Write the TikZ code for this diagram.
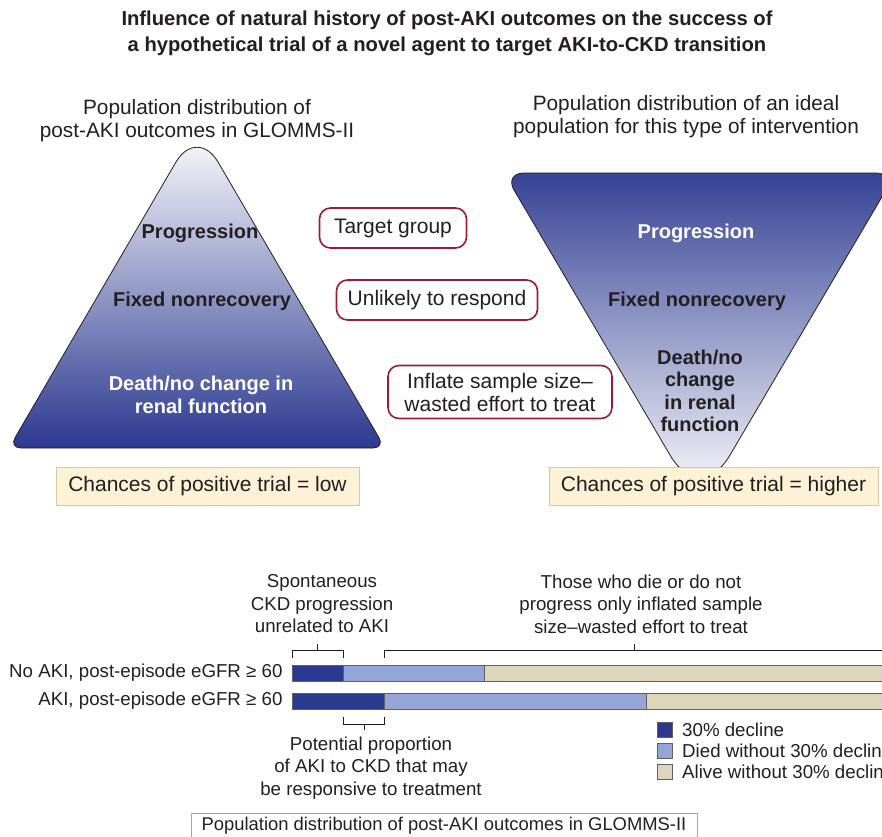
\documentclass[tikz,border=0pt]{standalone}
\usepackage{fontspec}
\setmainfont{Liberation Sans}
\usetikzlibrary{positioning}

\definecolor{inkgray}{HTML}{231F20}
\definecolor{akiblue}{HTML}{2B3990}
\definecolor{diedblue}{HTML}{94A6D8}
\definecolor{alivetan}{HTML}{DDD6BC}
\definecolor{boxred}{HTML}{9E1B34}
\definecolor{chancefill}{HTML}{FDF1D6}
\definecolor{chanceline}{HTML}{D6C8A4}
\definecolor{barline}{HTML}{5F6062}

\tikzset{
  headtxt/.style={align=center,font=\fontsize{20.8}{23}\selectfont,text=inkgray},
  darklbl/.style={align=center,font=\bfseries\fontsize{20}{22.5}\selectfont,text=inkgray},
  lightlbl/.style={align=center,font=\bfseries\fontsize{20}{22.5}\selectfont,text=white},
  redbox/.style={draw=boxred,line width=1.6pt,rounded corners=11pt,align=center,
    font=\fontsize{21}{23}\selectfont,text=inkgray,minimum height=40pt,inner sep=0pt},
  chancebox/.style={draw=chanceline,fill=chancefill,line width=0.8pt,minimum height=38pt,
    font=\fontsize{21}{23}\selectfont,text=inkgray,inner sep=0pt},
  smalltxt/.style={align=center,font=\fontsize{18.7}{22.5}\selectfont,text=inkgray},
  barseg/.style={draw=barline,line width=0.7pt},
  brack/.style={draw=inkgray,line width=0.8pt}
}

\begin{document}
\begin{tikzpicture}[x=1pt,y=-1pt]
\useasboundingbox (0,0) rectangle (882,836);
\clip (0,0) rectangle (882,836);

% title
\node[font=\bfseries\fontsize{20.2}{26}\selectfont,text=inkgray,align=center] (title) at (447,33)
  {Influence of natural history of post-AKI outcomes on the success of\\
   a hypothetical trial of a novel agent to target AKI-to-CKD transition};

% left pyramid
\shade[top color=white,middle color=akiblue!16,bottom color=akiblue,draw=inkgray,line width=0.8pt,rounded corners=12pt]
  (197,448) -- (385,448) [rounded corners=42pt] -- (197,126) [rounded corners=12pt] -- (9,448) -- cycle;
\node[headtxt] (lhead) at (197,121) {Population distribution of\\post-AKI outcomes in GLOMMS-II};
\node[darklbl] (lprog) at (200,233) {Progression};
\node[darklbl] (lfix) at (202,301) {Fixed nonrecovery};
\node[lightlbl] (ldeath) at (201,395) {Death/no change in\\renal function};

% right pyramid
\shade[top color=akiblue!95,middle color=akiblue!38,bottom color=white,draw=inkgray,line width=0.8pt,rounded corners=20pt]
  (700,173) -- (896,173) [rounded corners=58pt] -- (700,506) [rounded corners=20pt] -- (504,173) -- cycle;
\node[headtxt] (rhead) at (686,117) {Population distribution of an ideal\\population for this type of intervention};
\node[lightlbl] (rprog) at (696,233) {Progression};
\node[darklbl] (rfix) at (697,301) {Fixed nonrecovery};
\node[darklbl] (rdeath) at (700,391) {Death/no\\change\\in renal\\function};

% middle boxes
\node[redbox,minimum width=147pt] (target) at (393,228) {Target group};
\node[redbox,minimum width=201pt] (unlikely) at (437,300) {Unlikely to respond};
\node[redbox,minimum width=224pt,minimum height=53pt] (inflate) at (500,392)
  {Inflate sample size--\\wasted effort to treat};

\node[chancebox,minimum width=303pt] (lowchance) at (207.5,486) {Chances of positive trial = low};
\node[chancebox,minimum width=329pt] (highchance) at (713.5,486) {Chances of positive trial = higher};

% bars
\foreach \a/\b/\c/\yy in {292/343/484/665,292/384/646/693}
{
  \filldraw[barseg,fill=alivetan] (\c,\yy) rectangle (895,\yy+16);
  \filldraw[barseg,fill=diedblue] (\b,\yy) rectangle (\c,\yy+16);
  \filldraw[barseg,fill=akiblue] (\a,\yy) rectangle (\b,\yy+16);
}
\node[smalltxt,anchor=east] (noaki) at (286,673) {No AKI, post-episode eGFR ≥ 60};
\node[smalltxt,anchor=east] (aki) at (286,701) {AKI, post-episode eGFR ≥ 60};

% brackets
\draw[brack] (292,658) -- (292,650) -- (343,650) -- (343,658) (317,650) -- (317,644);
\draw[brack] (384,658) -- (384,650) -- (895,650) (634,650) -- (634,644);
\draw[brack] (343,717) -- (343,724) -- (384,724) -- (384,717) (364,724) -- (364,730);

\node[smalltxt] (spont) at (322,604) {Spontaneous\\CKD progression\\unrelated to AKI};
\node[smalltxt] (those) at (641,604) {Those who die or do not\\progress only inflated sample\\size--wasted effort to treat};
\node[smalltxt] (potential) at (371,768) {Potential proportion\\of AKI to CKD that may\\be responsive to treatment};

% legend
\foreach \col/\txt/\yy in {akiblue/30\% decline/722,diedblue/Died without 30\% decline/743,alivetan/Alive without 30\% decline/764}
{
  \filldraw[barseg,fill=\col] (657,\yy) rectangle (672,\yy+15);
  \node[smalltxt,anchor=west,inner sep=0pt] at (682,\yy+7.5) {\txt};
}

\node[draw=black!35,line width=0.8pt,minimum width=506pt,minimum height=38pt,anchor=north,inner sep=0pt] (caption) at (444,813) {};
\node[font=\fontsize{18.4}{22}\selectfont,text=inkgray] (captxt) at (444,826) {Population distribution of post-AKI outcomes in GLOMMS-II};
\end{tikzpicture}
\end{document}
